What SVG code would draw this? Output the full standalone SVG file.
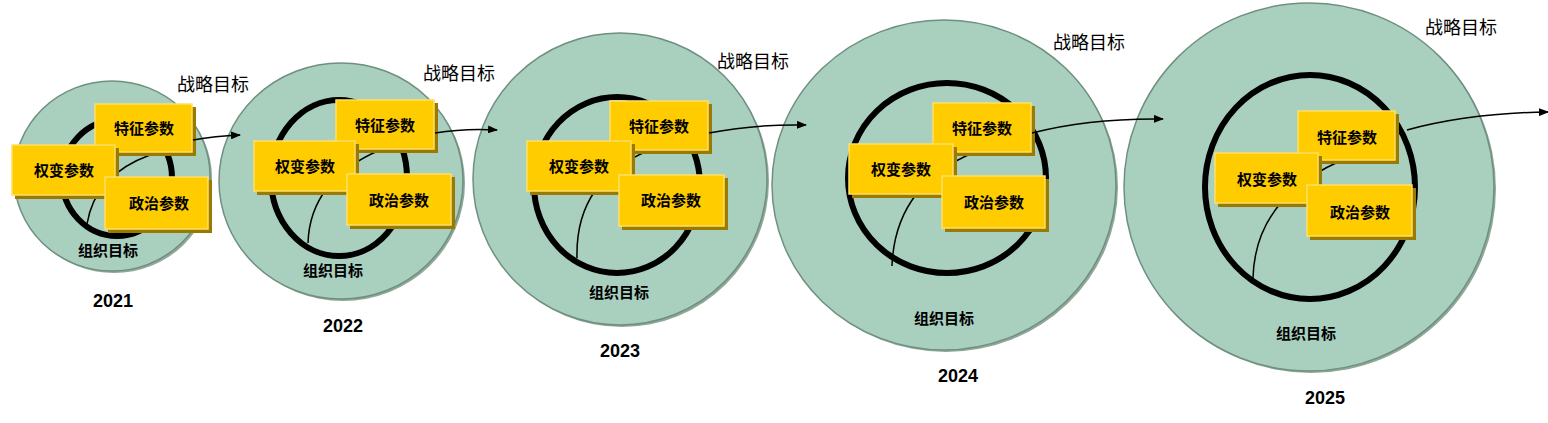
<svg xmlns="http://www.w3.org/2000/svg" width="1548" height="423" viewBox="0 0 1548 423">
<style>
.outer{fill:#a9cfbf;stroke:#6f8f80;stroke-width:1.5}
.sh{fill:#8fa898}
.ring{fill:none;stroke:#000;stroke-width:6}
.thin{fill:none;stroke:#000;stroke-width:1.5}
.bs{fill:#9a7a00}
.b{fill:#ffcc00;stroke:#ffe066;stroke-width:1.5}
.t{font-family:"Liberation Sans","Noto Sans CJK SC",sans-serif;font-weight:bold;fill:#000;text-anchor:middle}
.bt{font-size:15px}
.lt{font-size:15px}
.st{font-size:18px;font-weight:normal}
.yr{font-size:18px}
.arr{fill:none;stroke:#000;stroke-width:1.5}
</style>
<defs>
<marker id="ah" viewBox="0 0 10 10" refX="9" refY="5" markerWidth="10" markerHeight="8" markerUnits="userSpaceOnUse" orient="auto" preserveAspectRatio="none"><path d="M0,0L10,5L0,10z" fill="#000"/></marker>
</defs>
<g id="y2021">
<ellipse class="sh" cx="114" cy="178" rx="98" ry="95"/>
<ellipse class="outer" cx="112" cy="176" rx="98" ry="95"/>
<ellipse class="ring" cx="117" cy="178" rx="55" ry="58"/>
<path class="thin" d="M87,224 Q95,175 150,155"/>
<rect class="bs" x="98" y="107" width="98" height="49"/><rect class="b" x="95" y="104" width="97" height="48"/><text class="t bt" x="144" y="134">特征参数</text>
<rect class="bs" x="15" y="148" width="104" height="51"/><rect class="b" x="12" y="145" width="103" height="50"/><text class="t bt" x="64" y="176">权变参数</text>
<rect class="bs" x="108" y="180" width="104" height="53"/><rect class="b" x="105" y="177" width="103" height="52"/><text class="t bt" x="159" y="209">政治参数</text>
<text class="t lt" x="108" y="256">组织目标</text>
<text class="t st" x="213" y="91">战略目标</text>
<text class="t yr" x="113" y="307">2021</text>
</g>
<g id="y2022">
<ellipse class="sh" cx="343" cy="183" rx="122" ry="118"/>
<ellipse class="outer" cx="341" cy="181" rx="122" ry="118"/>
<ellipse class="ring" cx="339" cy="178" rx="68" ry="78"/>
<path class="thin" d="M308,243 Q310,180 380,150"/>
<rect class="bs" x="339" y="103" width="99" height="50"/><rect class="b" x="336" y="100" width="98" height="49"/><text class="t bt" x="385" y="131">特征参数</text>
<rect class="bs" x="257" y="144" width="102" height="51"/><rect class="b" x="254" y="141" width="101" height="50"/><text class="t bt" x="305" y="172">权变参数</text>
<rect class="bs" x="350" y="177" width="105" height="52"/><rect class="b" x="347" y="174" width="104" height="51"/><text class="t bt" x="399" y="206">政治参数</text>
<text class="t lt" x="333" y="276">组织目标</text>
<text class="t st" x="459" y="80">战略目标</text>
<text class="t yr" x="343" y="332">2022</text>
</g>
<g id="y2023">
<ellipse class="sh" cx="622" cy="181" rx="147" ry="146"/>
<ellipse class="outer" cx="620" cy="179" rx="147" ry="146"/>
<ellipse class="ring" cx="617" cy="185" rx="83" ry="88"/>
<path class="thin" d="M577,258 Q575,180 650,150"/>
<rect class="bs" x="613" y="104" width="99" height="50"/><rect class="b" x="610" y="101" width="98" height="49"/><text class="t bt" x="659" y="132">特征参数</text>
<rect class="bs" x="530" y="144" width="105" height="51"/><rect class="b" x="527" y="141" width="104" height="50"/><text class="t bt" x="579" y="172">权变参数</text>
<rect class="bs" x="622" y="178" width="106" height="52"/><rect class="b" x="619" y="175" width="105" height="51"/><text class="t bt" x="671" y="206">政治参数</text>
<text class="t lt" x="619" y="298">组织目标</text>
<text class="t st" x="753" y="68">战略目标</text>
<text class="t yr" x="620" y="357">2023</text>
</g>
<g id="y2024">
<ellipse class="sh" cx="946" cy="187" rx="172" ry="165"/>
<ellipse class="outer" cx="944" cy="185" rx="172" ry="165"/>
<ellipse class="ring" cx="947" cy="178" rx="99" ry="95"/>
<path class="thin" d="M892,266 Q895,185 975,152"/>
<rect class="bs" x="936" y="106" width="99" height="50"/><rect class="b" x="933" y="103" width="98" height="49"/><text class="t bt" x="982" y="134">特征参数</text>
<rect class="bs" x="852" y="147" width="105" height="51"/><rect class="b" x="849" y="144" width="104" height="50"/><text class="t bt" x="901" y="175">权变参数</text>
<rect class="bs" x="945" y="179" width="104" height="53"/><rect class="b" x="942" y="176" width="103" height="52"/><text class="t bt" x="994" y="208">政治参数</text>
<text class="t lt" x="944" y="324">组织目标</text>
<text class="t st" x="1089" y="49">战略目标</text>
<text class="t yr" x="958" y="382">2024</text>
</g>
<g id="y2025">
<ellipse class="sh" cx="1311" cy="189" rx="185" ry="184"/>
<ellipse class="outer" cx="1309" cy="187" rx="185" ry="184"/>
<ellipse class="ring" cx="1310" cy="187" rx="105" ry="112"/>
<path class="thin" d="M1253,278 Q1255,200 1338,162"/>
<rect class="bs" x="1301" y="114" width="98" height="50"/><rect class="b" x="1298" y="111" width="97" height="49"/><text class="t bt" x="1347" y="143">特征参数</text>
<rect class="bs" x="1218" y="156" width="104" height="51"/><rect class="b" x="1215" y="153" width="103" height="50"/><text class="t bt" x="1267" y="185">权变参数</text>
<rect class="bs" x="1310" y="188" width="106" height="52"/><rect class="b" x="1307" y="185" width="105" height="51"/><text class="t bt" x="1360" y="218">政治参数</text>
<text class="t lt" x="1306" y="339">组织目标</text>
<text class="t st" x="1461" y="34">战略目标</text>
<text class="t yr" x="1325" y="404">2025</text>
</g>
<g id="connectors">
<path class="arr" marker-end="url(#ah)" d="M193,140 Q215,136 240,135"/>
<path class="arr" marker-end="url(#ah)" d="M435,133 Q465,128 497,130"/>
<path class="arr" marker-end="url(#ah)" d="M709,133 Q755,124 806,125"/>
<path class="arr" marker-end="url(#ah)" d="M1032,133 Q1090,118 1163,119"/>
<path class="arr" marker-end="url(#ah)" d="M1407,130 Q1470,113 1548,112"/>
</g>
</svg>
